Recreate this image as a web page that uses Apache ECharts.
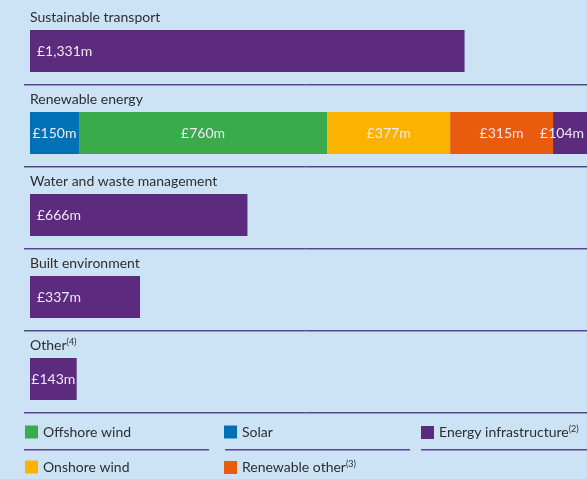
<!DOCTYPE html>
<html><head><meta charset="utf-8">
<script src="https://cdn.jsdelivr.net/npm/echarts@6/dist/echarts.min.js"></script>
<style>html,body{margin:0;padding:0;background:#cce3f6;} #c{width:587px;height:479px;}</style>
</head><body><div id="c"></div>
<script>
const categories = ['Sustainable transport', 'Renewable energy', 'Water and waste management', 'Built environment', 'Other'];
const categoryNotes = ['', '', '', '', '(4)'];
const totalValues = [1331, null, 666, 337, 143];
const renewableNames = ['Solar', 'Offshore wind', 'Onshore wind', 'Renewable other', 'Energy infrastructure'];
const renewableValues = [150, 760, 377, 315, 104];
const renewableColors = ['#0071b6', '#3aaa4b', '#fbb200', '#ea5c0d', '#5c2b7e'];
const legendNotes = { 'Energy infrastructure': '(2)', 'Renewable other': '(3)' };
const legendColumns = [['Offshore wind', 'Onshore wind'], ['Solar', 'Renewable other'], ['Energy infrastructure']];
const renewableRow = 1;

const FONT = 'Lato';
const purple = '#5c2b7e';
const fmt = v => '£' + Number(v).toLocaleString('en-GB') + 'm';
const labelColor = '#efe9f4';

const chart = echarts.init(document.getElementById('c'));

const series = [];
series.push({
  name: 'Total', type: 'bar', stack: 'a', barWidth: 42,
  itemStyle: { color: purple },
  label: { show: true, position: 'insideLeft', distance: 7, color: labelColor, fontFamily: FONT, fontSize: 14,
    formatter: p => fmt(p.value) },
  data: totalValues.map(v => v == null ? null : (v < 200 ? { value: v, label: { position: 'inside' } } : v))
});
renewableNames.forEach((n, k) => {
  series.push({
    name: n, type: 'bar', stack: 'a', barWidth: 42,
    itemStyle: { color: renewableColors[k] },
    label: { show: true, position: 'inside', color: labelColor, fontFamily: FONT, fontSize: 14,
      offset: k === renewableNames.length - 1 ? [-8, 0] : [0, 0],
      formatter: p => fmt(p.value) },
    data: categories.map((c, i) => i === renewableRow ? renewableValues[k] : null)
  });
});

const richT = { fontFamily: FONT, fontSize: 14, color: '#2e2e2e', lineHeight: 16 };
const richS = { fontFamily: FONT, fontSize: 9, color: '#2e2e2e', lineHeight: 16, padding: [0, 0, 6, 0] };

chart.setOption({
  backgroundColor: '#cce3f6',
  animation: false,
  grid: { left: 30, right: 0, top: 10, bottom: 59, containLabel: false },
  xAxis: { type: 'value', min: 0, max: 1706, show: false },
  yAxis: {
    type: 'category', data: categories, inverse: true,
    axisLine: { show: false }, axisTick: { show: false }, splitLine: { show: false },
    axisLabel: {
      inside: true, margin: 0, align: 'left', verticalAlign: 'bottom', padding: [0, 0, 26, 0],
      formatter: (v, i) => categoryNotes[i] ? `{t|${v}}{s|${categoryNotes[i]}}` : `{t|${v}}`,
      rich: { t: richT, s: richS }
    }
  },
  legend: legendColumns.map((names, i) => ({
    data: names, left: [25, 224, 421][i], top: 425, orient: 'vertical', itemGap: 21,
    itemWidth: 13, itemHeight: 13, icon: 'rect', padding: 0, selectedMode: false,
    formatter: n => legendNotes[n] ? `{t|${n}}{s|${legendNotes[n]}}` : `{t|${n}}`,
    textStyle: { rich: { t: richT, s: richS } }
  })),
  series
});

const graphics = [];
categories.forEach(c => {
  const y = Math.round(chart.convertToPixel({ yAxisIndex: 0 }, c) + 33);
  graphics.push({ type: 'line', silent: true, shape: { x1: 24, y1: y + 0.5, x2: 587, y2: y + 0.5 }, style: { stroke: '#54468a', lineWidth: 1 } });
  graphics.push({ type: 'line', silent: true, shape: { x1: 24, y1: y + 1.5, x2: 587, y2: y + 1.5 }, style: { stroke: '#9894c8', lineWidth: 1 } });
});
[[24, 209], [225, 410], [421, 587]].forEach(([a, b]) => {
  graphics.push({ type: 'line', silent: true, shape: { x1: a, y1: 449.5, x2: b, y2: 449.5 }, style: { stroke: '#54468a', lineWidth: 1 } });
  graphics.push({ type: 'line', silent: true, shape: { x1: a, y1: 450.5, x2: b, y2: 450.5 }, style: { stroke: '#9894c8', lineWidth: 1 } });
});
chart.setOption({ graphic: graphics });
</script></body></html>
